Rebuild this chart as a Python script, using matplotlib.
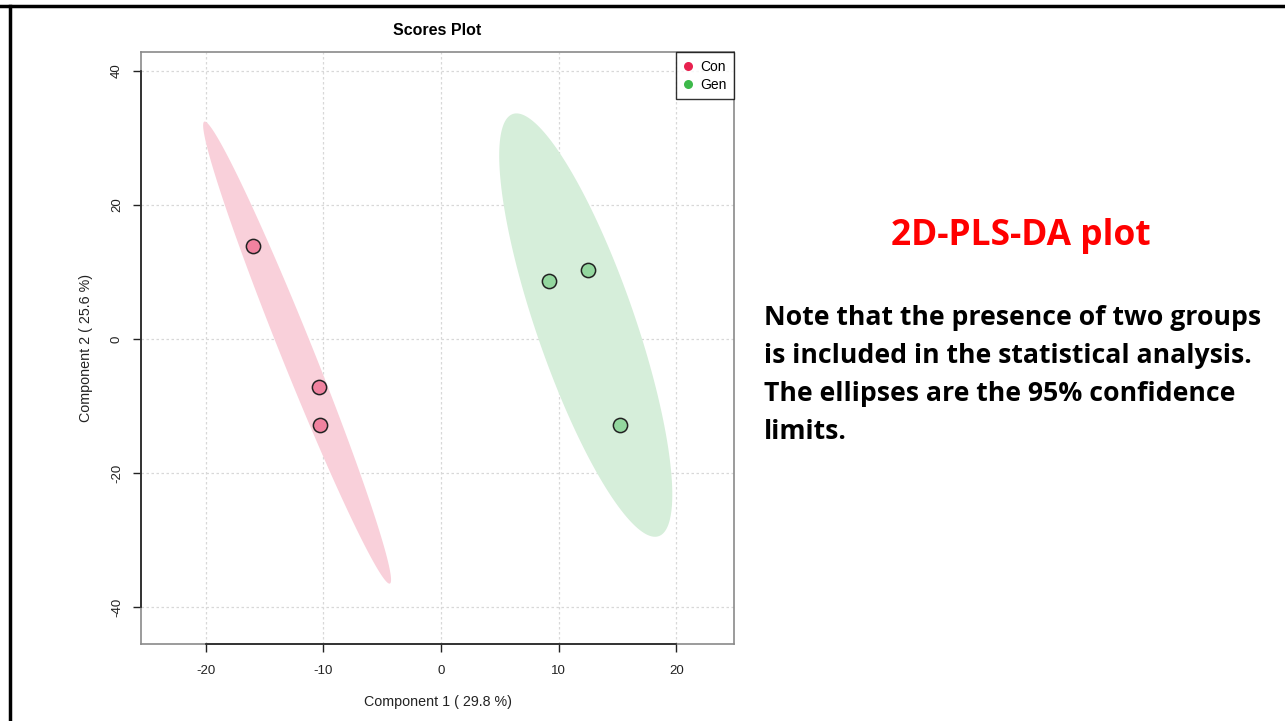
import numpy as np
import matplotlib
matplotlib.use("Agg")
import matplotlib.pyplot as plt
from matplotlib.lines import Line2D

# PLS-DA scores (component 1, component 2) per group
groups = ["Con", "Gen"]
con_x = [-16.0, -10.4, -10.3]
con_y = [13.9, -7.2, -12.8]
gen_x = [9.2, 12.5, 15.2]
gen_y = [8.7, 10.3, -12.8]

xticks = [-20, -10, 0, 10, 20]
yticks = [-40, -20, 0, 20, 40]
comp1_var = 29.8
comp2_var = 25.6

legend_colors = {"Con": "#E8214F", "Gen": "#3DB94A"}
point_colors = {"Con": "#F0829F", "Gen": "#93D79E"}
ellipse_colors = {"Con": "#F9D0DA", "Gen": "#D6EEDA"}

plt.rcParams["font.family"] = ["Liberation Sans", "DejaVu Sans"]

fig = plt.figure(figsize=(12.85, 7.21), dpi=100)
ax = fig.add_axes([141 / 1285, 1 - 644 / 721, (734 - 141) / 1285, (644 - 52) / 721])


def conf_ellipse(x, y, level=0.95, n=200):
    pts = np.column_stack([x, y])
    centre = pts.mean(axis=0)
    cov = np.cov(pts, rowvar=False)
    vals, vecs = np.linalg.eigh(cov)
    scale = np.sqrt(-2 * np.log(1 - level))  # chi-square quantile, 2 dof
    t = np.linspace(0, 2 * np.pi, n)
    circle = np.column_stack([np.cos(t), np.sin(t)])
    pts_e = circle * (scale * np.sqrt(vals)) @ vecs.T + centre
    return pts_e[:, 0], pts_e[:, 1]


data = {"Con": (con_x, con_y), "Gen": (gen_x, gen_y)}

for g in groups:
    gx, gy = data[g]
    ex, ey = conf_ellipse(gx, gy)
    ax.fill(ex, ey, color=ellipse_colors[g], lw=0, zorder=1)

for g in groups:
    gx, gy = data[g]
    ax.scatter(gx, gy, s=105, facecolor=point_colors[g], edgecolor="#222222",
               linewidth=1.1, zorder=3)

ax.set_xlim(-25.5, 24.9)
ax.set_ylim(-45.5, 42.8)
ax.set_xticks(xticks)
ax.set_yticks(yticks)
ax.set_xticklabels([str(v) for v in xticks])
ax.set_yticklabels([str(v) for v in yticks], rotation=90, va="center")
ax.tick_params(axis="both", direction="out", length=6, width=1, color="#222222",
               labelsize=9.5, labelcolor="#222222")
ax.tick_params(axis="x", pad=9)
ax.tick_params(axis="y", pad=7)

ax.grid(True, color="#D8D8D8", linestyle=(0, (2, 2)), linewidth=0.9)
ax.set_axisbelow(True)

for sp in ax.spines.values():
    sp.set_color("#8A8A8A")
    sp.set_linewidth(1.2)

# axis lines spanning the tick range
ax.plot([xticks[0], xticks[-1]], [0, 0], color="#222222", lw=1.2,
        transform=ax.get_xaxis_transform(), clip_on=False, zorder=5)
ax.plot([0, 0], [yticks[0], yticks[-1]], color="#222222", lw=1.2,
        transform=ax.get_yaxis_transform(), clip_on=False, zorder=5)

ax.set_xlabel(f"Component 1 ( {comp1_var} %)", fontsize=10.3, color="#222222", labelpad=13)
ax.set_ylabel(f"Component 2 ( {comp2_var} %)", fontsize=10.3, color="#222222", labelpad=13)
ax.set_title("Scores Plot", fontsize=11.5, fontweight="bold", pad=12.5)

handles = [Line2D([], [], marker="o", linestyle="none", markersize=6.5,
                  markerfacecolor=legend_colors[g], markeredgecolor="none", label=g)
           for g in groups]
leg = ax.legend(handles=handles, loc="upper right", borderaxespad=0, fontsize=10,
                frameon=True, fancybox=False, handlelength=0.7, handletextpad=0.5,
                borderpad=0.55, labelspacing=0.3, edgecolor="#000000")
leg.get_frame().set_linewidth(1.0)

# slide text
fig.text(1021 / 1285, 1 - 236 / 721, "2D-PLS-DA plot", color="#FF0000", fontsize=25.5,
         fontweight="bold", family=["Open Sans", "DejaVu Sans"], ha="center", va="center")
note_lines = ["Note that the presence of two groups",
              "is included in the statistical analysis.",
              "The ellipses are the 95% confidence",
              "limits."]
for i, line in enumerate(note_lines):
    fig.text(764 / 1285, 1 - (318 + 38 * i) / 721, line, color="#000000", fontsize=19.2,
             fontweight="bold", family=["Open Sans", "DejaVu Sans"], ha="left", va="center")

# slide frame
fig.add_artist(Line2D([0, 1], [1 - 6 / 721, 1 - 6 / 721], color="#000000", lw=2.5,
                      transform=fig.transFigure))
fig.add_artist(Line2D([10 / 1285, 10 / 1285], [0, 1 - 6 / 721], color="#000000", lw=2.5,
                      transform=fig.transFigure))

fig.savefig("out.png", dpi=100, facecolor="white")
